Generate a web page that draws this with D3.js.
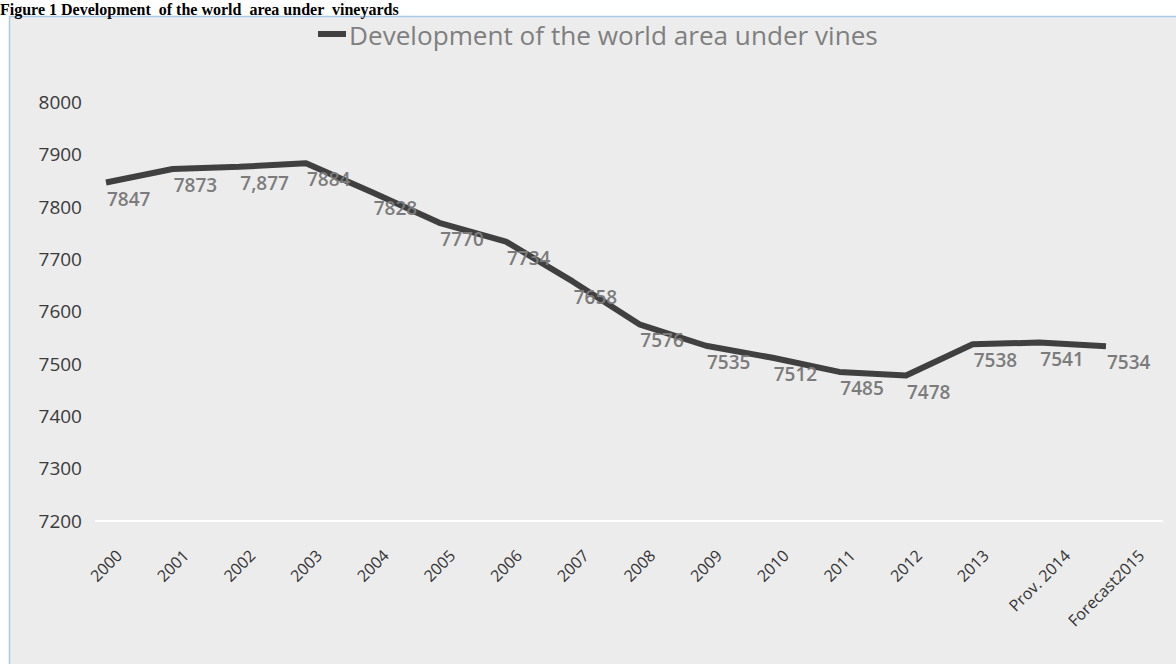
<!DOCTYPE html>
<html>
<head>
<meta charset="utf-8">
<script src="https://cdn.jsdelivr.net/npm/d3@7"></script>
<style>
  html, body { margin: 0; padding: 0; background: #fff; }
  svg { display: block; }
</style>
</head>
<body>
<script>
// World area under vines (thousand ha)
const categories = ["2000", "2001", "2002", "2003", "2004", "2005", "2006", "2007",
  "2008", "2009", "2010", "2011", "2012", "2013", "Prov. 2014", "Forecast2015"];
const areaValues = [7847, 7873, 7877, 7884, 7828, 7770, 7734, 7658,
  7576, 7535, 7512, 7485, 7478, 7538, 7541, 7534];
const valueLabels = ["7847", "7873", "7,877", "7884", "7828", "7770", "7734", "7658",
  "7576", "7535", "7512", "7485", "7478", "7538", "7541", "7534"];
const yTicks = [7200, 7300, 7400, 7500, 7600, 7700, 7800, 7900, 8000];
const seriesName = "Development of the world area under vines";
const figureTitle = "Figure 1 Development  of the world  area under  vineyards";

const W = 1176, H = 664;
const svg = d3.select("body").append("svg").attr("width", W).attr("height", H);

// chart frame
svg.append("rect")
  .attr("x", 9.5).attr("y", 16.5)
  .attr("width", 1220).attr("height", 700)
  .attr("fill", "#ECECEC").attr("stroke", "#A9C8E8").attr("stroke-width", 1.5);

// figure caption above the chart frame
svg.append("text")
  .attr("x", 0).attr("y", 14.5)
  .style("white-space", "pre")
  .attr("font-family", "'Liberation Serif', 'Times New Roman', serif")
  .attr("font-weight", "bold").attr("font-size", 16)
  .attr("fill", "#000")
  .text(figureTitle);

const x = d3.scalePoint().domain(categories).range([106, 1106]);
const y = d3.scaleLinear().domain([7200, 8000]).range([521, 102.5]);

const font = "'Open Sans', 'Noto Sans', sans-serif";

// y axis (labels only)
const yAxis = svg.append("g").attr("transform", "translate(82,0)")
  .call(d3.axisLeft(y).tickValues(yTicks).tickSize(0).tickPadding(0).tickFormat(d3.format("d")));
yAxis.select(".domain").remove();
yAxis.selectAll("text")
  .attr("font-family", font).attr("font-size", 19).attr("fill", "#3a3a3a");

// category axis baseline
svg.append("line")
  .attr("x1", 95).attr("x2", 1163)
  .attr("y1", y(7200)).attr("y2", y(7200))
  .attr("stroke", "#ffffff").attr("stroke-width", 2);

// rotated category labels, each centred on its category with its box top at a fixed line
const xl = svg.append("g");
categories.forEach(c => {
  const t = xl.append("text")
    .attr("font-family", font).attr("font-size", 16).attr("fill", "#333")
    .attr("text-anchor", "middle").attr("dominant-baseline", "central")
    .text(c);
  const L = t.node().getComputedTextLength();
  const h = (L + 16) * Math.SQRT1_2;
  t.attr("transform", `translate(${x(c)},${547 + h / 2}) rotate(-45)`);
});

// series line
const rows = categories.map((c, i) => ({ c, v: areaValues[i], label: valueLabels[i] }));
svg.append("path")
  .datum(rows)
  .attr("fill", "none")
  .attr("stroke", "#404040").attr("stroke-width", 6)
  .attr("stroke-linejoin", "round").attr("stroke-linecap", "butt")
  .attr("d", d3.line().x(d => x(d.c)).y(d => y(d.v)));

// value labels
svg.append("g").selectAll("text").data(rows).join("text")
  .attr("x", d => x(d.c) + 1)
  .attr("y", d => y(d.v) + 16)
  .attr("dominant-baseline", "central")
  .attr("font-family", font).attr("font-size", 19).attr("font-weight", 600)
  .attr("fill", "#7b7b7b")
  .text(d => d.label);

// legend
svg.append("line")
  .attr("x1", 318).attr("x2", 346).attr("y1", 34).attr("y2", 34)
  .attr("stroke", "#404040").attr("stroke-width", 6);
const legendText = svg.append("text")
  .attr("x", 349).attr("y", 35)
  .attr("dominant-baseline", "central")
  .attr("font-family", font).attr("font-size", 22).attr("fill", "#7f7f7f")
  .text(seriesName);
// size the legend text to span up to x = 878
const legendLen = legendText.node().getComputedTextLength();
legendText.attr("font-size", 22 * 529 / legendLen);
</script>
</body>
</html>
